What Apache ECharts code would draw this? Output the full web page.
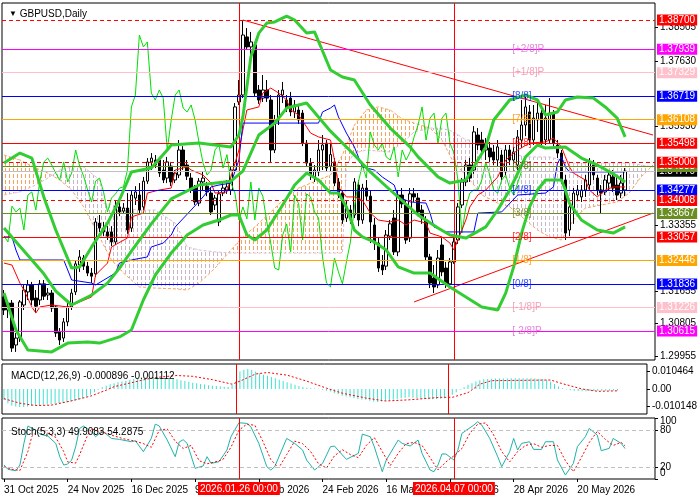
<!DOCTYPE html>
<html>
<head>
<meta charset="utf-8">
<script src="https://cdn.jsdelivr.net/npm/echarts@6/dist/echarts.min.js"></script>
<style>
  html, body { margin: 0; padding: 0; background: #fff; }
  #chart { width: 700px; height: 500px; }
</style>
</head>
<body>
<div id="chart"></div>
<script>
// GBPUSD daily, MT4-style: candles + Bollinger + Ichimoku + Murrey levels, MACD and Stochastic below

// daily candles [open, close, low, high]
const candles = [
  [1.3150,1.3116,1.3103,1.3168],[1.3116,1.3134,1.3095,1.3142],[1.3134,1.3017,1.3007,1.3142],[1.3025,1.3043,1.3007,1.3056],
  [1.3043,1.3137,1.3033,1.3142],[1.3129,1.3168,1.3116,1.3181],[1.3163,1.3181,1.3142,1.3194],[1.3181,1.3142,1.3129,1.3189],
  [1.3147,1.3126,1.3111,1.3168],[1.3142,1.3184,1.3129,1.3194],[1.3184,1.3152,1.3142,1.3194],[1.3155,1.3160,1.3142,1.3173],
  [1.3160,1.3121,1.3111,1.3168],[1.3124,1.3056,1.3046,1.3129],[1.3059,1.3038,1.3025,1.3069],[1.3043,1.3085,1.3033,1.3095],
  [1.3085,1.3124,1.3074,1.3134],[1.3124,1.3160,1.3116,1.3171],[1.3163,1.3236,1.3155,1.3246],[1.3233,1.3254,1.3215,1.3272],
  [1.3251,1.3230,1.3220,1.3259],[1.3230,1.3212,1.3204,1.3241],[1.3212,1.3204,1.3186,1.3225],[1.3210,1.3345,1.3202,1.3355],
  [1.3342,1.3329,1.3319,1.3363],[1.3329,1.3319,1.3308,1.3345],[1.3319,1.3308,1.3298,1.3334],[1.3319,1.3293,1.3282,1.3334],
  [1.3293,1.3386,1.3285,1.3402],[1.3384,1.3371,1.3360,1.3402],[1.3373,1.3381,1.3366,1.3394],[1.3381,1.3324,1.3314,1.3420],
  [1.3329,1.3415,1.3319,1.3428],[1.3407,1.3423,1.3389,1.3438],[1.3415,1.3376,1.3366,1.3446],[1.3384,1.3451,1.3376,1.3462],
  [1.3451,1.3501,1.3444,1.3511],[1.3501,1.3511,1.3480,1.3524],[1.3506,1.3493,1.3485,1.3519],[1.3506,1.3472,1.3462,1.3514],
  [1.3480,1.3454,1.3446,1.3506],[1.3459,1.3501,1.3446,1.3514],[1.3490,1.3449,1.3438,1.3501],[1.3454,1.3472,1.3446,1.3480],
  [1.3467,1.3532,1.3459,1.3558],[1.3532,1.3490,1.3480,1.3542],[1.3493,1.3464,1.3454,1.3506],[1.3459,1.3428,1.3420,1.3472],
  [1.3433,1.3397,1.3389,1.3441],[1.3394,1.3451,1.3386,1.3459],[1.3449,1.3459,1.3428,1.3475],[1.3438,1.3423,1.3412,1.3449],
  [1.3420,1.3371,1.3363,1.3433],[1.3389,1.3407,1.3376,1.3415],[1.3345,1.3418,1.3334,1.3428],[1.3420,1.3433,1.3412,1.3449],
  [1.3428,1.3436,1.3418,1.3454],[1.3428,1.3480,1.3415,1.3488],[1.3480,1.3644,1.3475,1.3654],[1.3657,1.3675,1.3649,1.3714],
  [1.3675,1.3831,1.3667,1.3870],[1.3826,1.3800,1.3792,1.3849],[1.3800,1.3813,1.3771,1.3839],[1.3805,1.3680,1.3672,1.3813],
  [1.3688,1.3662,1.3652,1.3701],[1.3667,1.3688,1.3657,1.3727],[1.3688,1.3667,1.3657,1.3714],[1.3662,1.3532,1.3501,1.3675],
  [1.3532,1.3610,1.3524,1.3623],[1.3610,1.3675,1.3597,1.3688],[1.3675,1.3688,1.3654,1.3709],[1.3662,1.3641,1.3631,1.3675],
  [1.3667,1.3631,1.3620,1.3683],[1.3631,1.3649,1.3615,1.3662],[1.3636,1.3610,1.3600,1.3649],[1.3628,1.3550,1.3542,1.3636],
  [1.3550,1.3498,1.3488,1.3558],[1.3498,1.3467,1.3454,1.3511],[1.3462,1.3480,1.3449,1.3493],[1.3475,1.3532,1.3464,1.3558],
  [1.3532,1.3545,1.3480,1.3571],[1.3550,1.3485,1.3475,1.3558],[1.3490,1.3520,1.3475,1.3550],[1.3501,1.3446,1.3438,1.3511],
  [1.3449,1.3420,1.3407,1.3459],[1.3420,1.3350,1.3340,1.3428],[1.3355,1.3384,1.3345,1.3402],[1.3376,1.3353,1.3340,1.3389],
  [1.3363,1.3449,1.3355,1.3459],[1.3441,1.3350,1.3334,1.3454],[1.3350,1.3433,1.3340,1.3444],[1.3433,1.3412,1.3402,1.3454],
  [1.3412,1.3345,1.3290,1.3428],[1.3337,1.3290,1.3272,1.3355],[1.3290,1.3225,1.3215,1.3303],[1.3233,1.3220,1.3207,1.3259],
  [1.3230,1.3311,1.3220,1.3324],[1.3308,1.3340,1.3298,1.3350],[1.3355,1.3267,1.3259,1.3376],[1.3267,1.3415,1.3256,1.3428],
  [1.3415,1.3392,1.3381,1.3433],[1.3389,1.3298,1.3288,1.3402],[1.3303,1.3418,1.3293,1.3433],[1.3418,1.3410,1.3397,1.3433],
  [1.3407,1.3371,1.3360,1.3420],[1.3376,1.3355,1.3340,1.3389],[1.3350,1.3254,1.3246,1.3360],[1.3254,1.3186,1.3173,1.3262],
  [1.3199,1.3176,1.3160,1.3233],[1.3181,1.3251,1.3173,1.3272],[1.3285,1.3215,1.3204,1.3303],[1.3225,1.3184,1.3173,1.3241],
  [1.3184,1.3241,1.3173,1.3251],[1.3241,1.3293,1.3236,1.3303],[1.3298,1.3384,1.3288,1.3394],[1.3389,1.3449,1.3381,1.3459],
  [1.3449,1.3493,1.3438,1.3506],[1.3493,1.3459,1.3449,1.3511],[1.3480,1.3579,1.3470,1.3594],[1.3571,1.3545,1.3532,1.3589],
  [1.3558,1.3532,1.3519,1.3579],[1.3532,1.3550,1.3506,1.3563],[1.3537,1.3514,1.3501,1.3553],[1.3527,1.3506,1.3493,1.3545],
  [1.3506,1.3540,1.3490,1.3558],[1.3519,1.3462,1.3454,1.3532],[1.3475,1.3532,1.3467,1.3545],[1.3532,1.3506,1.3493,1.3545],
  [1.3506,1.3527,1.3496,1.3540],[1.3493,1.3566,1.3480,1.3584],[1.3558,1.3597,1.3537,1.3662],[1.3597,1.3644,1.3568,1.3670],
  [1.3631,1.3558,1.3545,1.3649],[1.3558,1.3615,1.3545,1.3649],[1.3610,1.3628,1.3579,1.3662],[1.3628,1.3550,1.3540,1.3641],
  [1.3558,1.3615,1.3545,1.3649],[1.3558,1.3628,1.3550,1.3667],[1.3628,1.3550,1.3542,1.3636],[1.3545,1.3524,1.3511,1.3558],
  [1.3524,1.3454,1.3444,1.3532],[1.3454,1.3316,1.3298,1.3467],[1.3324,1.3384,1.3308,1.3402],[1.3376,1.3420,1.3340,1.3433],
  [1.3415,1.3428,1.3402,1.3441],[1.3410,1.3428,1.3397,1.3441],[1.3428,1.3454,1.3410,1.3467],[1.3441,1.3501,1.3428,1.3511],
  [1.3493,1.3467,1.3454,1.3506],[1.3459,1.3428,1.3415,1.3467],[1.3428,1.3420,1.3368,1.3441],[1.3423,1.3454,1.3415,1.3467],
  [1.3446,1.3467,1.3428,1.3480],[1.3462,1.3433,1.3423,1.3480],[1.3441,1.3415,1.3402,1.3464],[1.3420,1.3446,1.3407,1.3467],
  [1.3428,1.3477,1.3412,1.3485]
];
const barSlots = 164; // candles plus the empty shift area on the right

// date labels, one every 16 bars
const dateTicks = ['31 Oct 2025','24 Nov 2025','16 Dec 2025','9 Jan 2026','2 Feb 2026','24 Feb 2026',
                   '16 Mar 2026','6 Apr 2026','28 Apr 2026','20 May 2026'];
const priceTicks = [1.29955, 1.30805, 1.31655, 1.33355, 1.35930, 1.37630, 1.38505];

// Bollinger bands [bar, price]
const bbUpper = [[0,1.3498],[4,1.3524],[7,1.3511],[10,1.3410],[13,1.3324],[17,1.3225],[19,1.3228],[22,1.3280],
  [26,1.3342],[29,1.3402],[32,1.3475],[37,1.3485],[41,1.3532],[42,1.3545],[49,1.3550],[57,1.3540],[59,1.3571],
  [60,1.3618],[62,1.3774],[64,1.3836],[66,1.3862],[68,1.3865],[71,1.3880],[73,1.3870],[76,1.3836],[78,1.3839],
  [82,1.3740],[85,1.3722],[88,1.3714],[92,1.3649],[97,1.3589],[102,1.3540],[104,1.3514],[109,1.3462],[112,1.3446],
  [116,1.3454],[121,1.3540],[123,1.3610],[127,1.3662],[131,1.3675],[134,1.3662],[136,1.3623],[139,1.3631],
  [141,1.3662],[144,1.3670],[148,1.3667],[151,1.3644],[154,1.3615],[156,1.3566]];
const bbMiddle = [[0,1.3329],[4,1.3282],[10,1.3210],[13,1.3165],[17,1.3129],[22,1.3155],[26,1.3186],[29,1.3225],
  [32,1.3269],[37,1.3340],[42,1.3405],[49,1.3441],[57,1.3451],[60,1.3477],[64,1.3571],[68,1.3602],[71,1.3641],
  [76,1.3654],[82,1.3581],[88,1.3519],[92,1.3475],[97,1.3428],[104,1.3363],[109,1.3329],[112,1.3311],[116,1.3303],
  [121,1.3332],[124,1.3376],[127,1.3428],[131,1.3514],[134,1.3545],[136,1.3537],[141,1.3540],[145,1.3511],
  [149,1.3493],[153,1.3470],[156,1.3449]];
const bbLower = [[0,1.3160],[3,1.3064],[6,1.3012],[12,1.3007],[16,1.3030],[21,1.3033],[24,1.3030],[29,1.3046],
  [32,1.3064],[35,1.3142],[38,1.3207],[42,1.3264],[46,1.3311],[50,1.3337],[54,1.3350],[57,1.3363],[59,1.3363],
  [61,1.3311],[63,1.3298],[66,1.3324],[70,1.3389],[73,1.3441],[76,1.3472],[79,1.3454],[82,1.3420],[84,1.3420],
  [86,1.3384],[88,1.3324],[90,1.3306],[93,1.3293],[96,1.3272],[99,1.3228],[103,1.3212],[107,1.3212],[112,1.3176],
  [116,1.3150],[120,1.3124],[124,1.3116],[126,1.3160],[128,1.3228],[130,1.3316],[132,1.3384],[134,1.3428],
  [136,1.3454],[140,1.3454],[141,1.3428],[142,1.3394],[145,1.3350],[149,1.3324],[153,1.3316],[156,1.3332]];

// Ichimoku
const tenkan = [[0,1.3238],[2,1.3233],[4,1.3186],[5,1.3168],[7,1.3124],[8,1.3108],[9,1.3124],[12,1.3129],[16,1.3124],
  [22,1.3150],[23,1.3207],[26,1.3238],[27,1.3280],[31,1.3303],[32,1.3358],[35,1.3368],[36,1.3420],[39,1.3428],
  [42,1.3433],[43,1.3480],[46,1.3488],[47,1.3480],[50,1.3467],[52,1.3446],[53,1.3420],[56,1.3423],[57,1.3462],
  [59,1.3532],[61,1.3636],[64,1.3644],[65,1.3680],[67,1.3693],[69,1.3680],[71,1.3662],[72,1.3636],[74,1.3623],
  [76,1.3592],[77,1.3576],[79,1.3566],[82,1.3558],[83,1.3506],[84,1.3436],[86,1.3410],[88,1.3410],[90,1.3402],
  [92,1.3368],[94,1.3350],[97,1.3345],[99,1.3350],[101,1.3337],[103,1.3350],[106,1.3342],[107,1.3316],[110,1.3306],
  [112,1.3290],[113,1.3272],[114,1.3298],[116,1.3350],[117,1.3384],[119,1.3415],[121,1.3428],[124,1.3462],
  [126,1.3506],[129,1.3532],[132,1.3550],[136,1.3553],[138,1.3563],[140,1.3540],[141,1.3514],[142,1.3488],
  [143,1.3472],[146,1.3454],[147,1.3428],[149,1.3410],[151,1.3428],[153,1.3436],[156,1.3436]];
const kijun = [[0,1.3306],[2,1.3306],[3,1.3272],[4,1.3246],[15,1.3246],[17,1.3194],[22,1.3186],[23,1.3181],
  [28,1.3212],[29,1.3238],[32,1.3246],[36,1.3254],[37,1.3280],[40,1.3290],[42,1.3311],[43,1.3332],[47,1.3376],
  [50,1.3410],[52,1.3436],[54,1.3441],[57,1.3446],[59,1.3506],[60,1.3602],[79,1.3602],[80,1.3631],[82,1.3641],
  [83,1.3649],[84,1.3618],[86,1.3576],[88,1.3540],[90,1.3488],[93,1.3480],[95,1.3462],[98,1.3441],[99,1.3410],
  [102,1.3397],[106,1.3394],[107,1.3368],[108,1.3332],[111,1.3319],[118,1.3319],[119,1.3368],[125,1.3371],
  [129,1.3415],[136,1.3420],[138,1.3436],[139,1.3498],[140,1.3514],[141,1.3488],[142,1.3475],[156,1.3475]];
const cloudBars = [0,4,8,11,14,17,20,24,25,27,30,34,38,43,46,49,53,57,60,63,67,71,74,79,82,85,86,88,91,94,97,100,
  103,107,110,113,116,120,124,127,131,134,137,140,143,146,150,154,157,160,163];
const senkouA = [1.3519,1.3506,1.3485,1.3472,1.3454,1.3428,1.3384,1.3306,1.3285,1.3246,1.3212,1.3176,1.3173,1.3171,
  1.3168,1.3186,1.3225,1.3272,1.3306,1.3332,1.3371,1.3410,1.3433,1.3454,1.3467,1.3519,1.3545,1.3597,1.3636,1.3644,
  1.3636,1.3613,1.3602,1.3589,1.3558,1.3498,1.3467,1.3415,1.3394,1.3384,1.3350,1.3324,1.3306,1.3298,1.3350,1.3381,
  1.3389,1.3397,1.3420,1.3462,1.3493];
const senkouB = [1.3415,1.3423,1.3441,1.3459,1.3480,1.3488,1.3488,1.3454,1.3394,1.3389,1.3381,1.3376,1.3376,1.3342,
  1.3280,1.3272,1.3267,1.3264,1.3264,1.3264,1.3264,1.3264,1.3264,1.3264,1.3264,1.3264,1.3493,1.3524,1.3532,1.3529,
  1.3527,1.3550,1.3579,1.3589,1.3589,1.3579,1.3558,1.3558,1.3540,1.3524,1.3514,1.3514,1.3514,1.3506,1.3498,1.3498,
  1.3498,1.3498,1.3498,1.3493,1.3488];

// MACD(12,26,9): histogram per bar, signal [bar, value]
const macdHist = [
  -0.0065,-0.0085,-0.0100,-0.0105,-0.0108,-0.0108,-0.0105,-0.0102,-0.0100,-0.0098,
  -0.0095,-0.0093,-0.0090,-0.0088,-0.0085,-0.0082,-0.0080,-0.0075,-0.0070,-0.0063,
  -0.0055,-0.0045,-0.0035,-0.0020,-0.0005,0.0010,0.0020,0.0028,0.0035,0.0040,
  0.0045,0.0050,0.0055,0.0060,0.0062,0.0065,0.0068,0.0070,0.0072,0.0070,
  0.0068,0.0065,0.0063,0.0060,0.0058,0.0053,0.0048,0.0043,0.0038,0.0035,
  0.0030,0.0027,0.0023,0.0020,0.0018,0.0015,0.0013,0.0012,0.0025,0.0050,
  0.0105,0.0115,0.0120,0.0115,0.0105,0.0095,0.0085,0.0080,0.0072,0.0065,
  0.0055,0.0048,0.0040,0.0033,0.0025,0.0018,0.0012,0.0008,0.0005,0.0003,
  0.0001,-0.0005,-0.0010,-0.0015,-0.0025,-0.0032,-0.0040,-0.0045,-0.0050,-0.0055,
  -0.0060,-0.0063,-0.0065,-0.0070,-0.0075,-0.0078,-0.0075,-0.0072,-0.0068,-0.0065,
  -0.0060,-0.0055,-0.0052,-0.0050,-0.0053,-0.0056,-0.0058,-0.0060,-0.0062,-0.0062,
  -0.0060,-0.0058,-0.0055,-0.0050,-0.0035,-0.0020,-0.0005,0.0010,0.0025,0.0035,
  0.0045,0.0052,0.0058,0.0060,0.0062,0.0063,0.0063,0.0063,0.0063,0.0064,
  0.0065,0.0065,0.0065,0.0065,0.0064,0.0063,0.0062,0.0060,0.0055,0.0045,
  0.0030,0.0015,0.0005,-0.0003,-0.0008,-0.0010,-0.0012,-0.0013,-0.0013,-0.0012,
  -0.0012,-0.0011,-0.0011,-0.0010,-0.0010,-0.0009,-0.0009];
const macdSignal = [[0,-0.0058],[4,-0.0085],[8,-0.0099],[12,-0.0097],[17,-0.0072],[22,-0.0043],[26,-0.0007],
  [28,0.0014],[33,0.0041],[38,0.0068],[44,0.0081],[48,0.0076],[53,0.0056],[58,0.0029],[60,0.0047],[64,0.0090],
  [67,0.0099],[72,0.0083],[77,0.0047],[82,0.0005],[86,-0.0025],[92,-0.0054],[97,-0.0072],[103,-0.0065],
  [111,-0.0050],[114,-0.0050],[118,-0.0022],[121,0.0029],[124,0.0050],[139,0.0054],[142,0.0032],[147,0.0000],
  [151,-0.0014],[156,-0.0011]];

// Stochastic(5,3,3) [bar, value]
const stochK = [[0,22.9],[1,15.8],[3,13.6],[4,22.9],[5,58.4],[6,86.8],[8,80.2],[9,73.6],[11,70.4],[13,58.4],
  [14,36.6],[15,22.9],[16,24.5],[17,31.1],[18,52.9],[19,82.9],[20,86.8],[22,77.5],[23,69.3],[24,74.7],[25,77.5],
  [27,66.5],[29,64.9],[32,61.1],[33,62.7],[35,44.7],[37,66.5],[38,90],[39,86.8],[41,63.8],[43,36.6],[44,60.6],
  [45,64.4],[46,58.4],[48,17.5],[50,21.3],[51,36.6],[52,25.6],[54,28.4],[56,47.5],[57,69.3],[59,92.2],[61,91.1],
  [62,85.6],[64,58.4],[66,20.2],[67,14.7],[68,20.2],[71,66.5],[73,58.4],[75,47.5],[76,31.1],[78,14.7],[79,20.2],
  [80,25.6],[82,52.9],[83,54],[85,39.3],[86,32.2],[89,42],[90,73.6],[92,69.3],[93,52.9],[95,12],[96,31.1],
  [99,63.8],[100,58.4],[102,54],[104,63.8],[105,42],[107,14.7],[108,12],[109,22.9],[110,41],[111,41],[113,31.1],
  [114,47.5],[115,74.7],[118,88.4],[119,93.9],[120,88.4],[122,66.5],[124,36.6],[125,20.2],[127,44.7],[128,66.5],
  [129,47.5],[130,58.4],[132,61.1],[133,48.5],[135,48.5],[136,61.1],[138,61.1],[139,31.1],[141,6.5],[143,25.6],
  [144,52.9],[146,69.3],[147,83],[149,72],[150,46.4],[152,50.2],[153,66.5],[155,58.4],[156,49.9]];
const stochD = [[0,20],[2,16],[4,14],[6,45],[7,70],[9,82],[11,75],[13,68],[15,45],[16,28],[18,26],[19,40],[21,72],
  [22,82],[24,78],[26,74],[28,70],[30,66],[33,62],[35,58],[37,52],[39,80],[41,82],[43,62],[45,50],[47,55],[49,30],
  [51,25],[53,28],[55,32],[57,52],[59,80],[61,90],[63,88],[65,62],[67,32],[69,18],[71,40],[73,62],[75,58],[77,45],
  [79,25],[81,18],[83,38],[85,48],[87,40],[89,35],[91,55],[93,68],[95,45],[97,22],[99,42],[101,58],[103,60],
  [105,55],[107,35],[109,15],[111,28],[113,38],[115,50],[117,75],[119,90],[121,92],[123,72],[125,45],[127,28],
  [129,45],[131,55],[133,58],[135,52],[137,55],[139,55],[141,30],[143,12],[145,35],[147,60],[149,78],[151,65],
  [153,55],[155,60],[156,54.3]];
const stochLevels = [0, 20, 80, 100];

// horizontal levels on the price panel
const levelPrices = [1.38700, 1.37939, 1.37329, 1.36719, 1.36108, 1.35498, 1.34770, 1.34888, 1.35000,
                     1.34277, 1.34008, 1.33667, 1.33057, 1.32446, 1.31836, 1.31226, 1.30615];
const murreyNames  = ['[+2/8]P','[+1/8]P','[8/8]','[7/8]','[6/8]','[5/8]','[4/8]','[3/8]','[2/8]','[1/8]','[0/8]','[-1/8]P','[-2/8]P'];
const murreyPrices = [1.37939,1.37329,1.36719,1.36108,1.35498,1.34888,1.34277,1.33667,1.33057,1.32446,1.31836,1.31226,1.30615];
const trendLines = [[[60, 1.3870], [163, 1.3571]], [[103, 1.3137], [163, 1.3368]]];
const markedBars = [59, 113];
const markedText = ['2026.01.26 00:00', '2026.04.07 00:00'];

// styles
const FONT = 'Liberation Sans';
const RED = '#ff0000', MAG = '#ff00ff', PINK = '#ffc0cb', BLUE = '#0000ff', ORANGE = '#ffa500', OLIVE = '#6b8e23';
const CLEAR = 'rgba(0,0,0,0)';
const levelStyle = [
  {c: RED, dash: true}, {c: MAG}, {c: PINK}, {c: BLUE}, {c: ORANGE}, {c: RED},
  {c: '#c0c0c0', box: '#000000'}, {c: OLIVE}, {c: RED, dash: true},
  {c: BLUE}, {c: RED, dash: true}, {c: OLIVE}, {c: RED}, {c: ORANGE}, {c: BLUE}, {c: PINK}, {c: MAG}
];
const murreyColors = ['#dd66cc', '#f08aa8', '#0022ff', '#ff8c00', '#ff0000', '#4f6f0f', '#0022ff', '#6f7f1f',
                      '#ff0000', '#ff8c00', '#0022ff', '#f08aa8', '#dd66cc'];

function hatch(color) {
  const c = document.createElement('canvas');
  c.width = 4; c.height = 6;
  const g = c.getContext('2d');
  g.fillStyle = color;
  g.fillRect(1, 0, 1, 4);
  return c;
}
const sandyHatch = hatch('#f4a460');
const thistleHatch = hatch('#c8b4c8');

const cats = Array.from({length: barSlots}, (_, i) => String(i));
const chikou = candles.slice(26).map((c, k) => [k, c[1]]);

const levelLines = levelPrices.map((p, k) => ({
  yAxis: p,
  lineStyle: {color: levelStyle[k].c, width: 1, type: levelStyle[k].dash ? [4, 3] : 'solid'},
  label: {
    show: true, position: 'end', distance: 2, formatter: p.toFixed(5),
    color: '#fff', backgroundColor: levelStyle[k].box || levelStyle[k].c,
    padding: [1, 2, 0, 2], fontSize: 10, fontFamily: FONT
  }
}));
const vLines = markedBars.map(b => ({xAxis: b, label: {show: false}}));
const tLines = trendLines.map(t => [{coord: t[0]}, {coord: t[1]}]);

const thin = (color, w, type) => ({color: color, width: w || 1, type: type || 'solid'});
function lineSeries(name, data, style, axis, z) {
  return {
    name: name, type: 'line', data: data, xAxisIndex: axis, yAxisIndex: axis,
    symbol: 'none', lineStyle: style, z: z || 4, silent: true, clip: true
  };
}

// stochastic levels: dashed lines at 20/80, value labels on the right for all four
const stochMarks = stochLevels.map(v => ({
  yAxis: v,
  lineStyle: (v === 20 || v === 80) ? {color: '#c0c0c0', type: [4, 3], width: 1} : {color: CLEAR, width: 1},
  label: {show: true, position: 'end', distance: 5, formatter: String(v), color: '#000',
          fontSize: 10, fontFamily: FONT, offset: [0, v === 100 ? 3 : v === 0 ? -6 : 0]}
}));

let chart = echarts.init(document.getElementById('chart'));

const option = {
  animation: false,
  backgroundColor: '#fff',
  textStyle: {fontFamily: FONT},
  title: [
    {text: '{t|▼} GBPUSD,Daily', left: 4, top: 4,
     textStyle: {fontSize: 10, fontWeight: 'normal', color: '#000', fontFamily: FONT,
                 rich: {t: {fontSize: 8, color: '#000'}}}},
    {text: 'MACD(12,26,9) -0.000896 -0.001112', left: 6, top: 366,
     textStyle: {fontSize: 10, fontWeight: 'normal', color: '#000', fontFamily: FONT}},
    {text: 'Stoch(5,3,3) 49.9083 54.2875', left: 6, top: 422,
     textStyle: {fontSize: 10, fontWeight: 'normal', color: '#000', fontFamily: FONT}}
  ],
  grid: [
    {left: 2, top: 3, width: 653, height: 357, show: true, borderColor: '#000', borderWidth: 1, backgroundColor: '#fff'},
    {left: 2, top: 364, width: 653, height: 50, show: true, borderColor: '#000', borderWidth: 1},
    {left: 2, top: 418, width: 653, height: 61, show: true, borderColor: '#000', borderWidth: 1}
  ],
  xAxis: [0, 1, 2].map(g => ({
    type: 'category', gridIndex: g, data: cats, boundaryGap: true,
    axisLine: {show: false}, splitLine: {show: false},
    axisTick: g === 2 ? {
      show: true, alignWithLabel: true, length: 3, lineStyle: {color: '#000'},
      interval: i => i % 16 === 0 && i / 16 < dateTicks.length
    } : {show: false},
    axisLabel: g === 2 ? {
      show: true, align: 'left', margin: 6, color: '#000', fontSize: 10, fontFamily: FONT,
      interval: i => i % 16 === 0 && i / 16 < dateTicks.length,
      formatter: (v, i) => dateTicks[i / 16] || ''
    } : {show: false}
  })),
  yAxis: [
    {type: 'value', gridIndex: 0, position: 'right', min: 1.2986, max: 1.39142, scale: true,
     splitLine: {show: false}, axisLine: {show: false},
     axisTick: {show: true, length: 3, lineStyle: {color: '#000'}, customValues: priceTicks},
     axisLabel: {color: '#000', fontSize: 10, fontFamily: FONT, margin: 5, customValues: priceTicks,
                 formatter: v => v.toFixed(5)}},
    {type: 'value', gridIndex: 1, position: 'right', min: -0.015, max: 0.015,
     splitLine: {show: false}, axisLine: {show: false},
     axisTick: {show: true, length: 3, lineStyle: {color: '#000'}, customValues: [-0.010148, 0, 0.010464]},
     axisLabel: {color: '#000', fontSize: 10, fontFamily: FONT, margin: 5,
                 customValues: [-0.010148, 0, 0.010464],
                 formatter: v => v === 0 ? '0.00' : v.toFixed(6)}},
    {type: 'value', gridIndex: 2, position: 'right', min: 0, max: 100,
     splitLine: {show: false}, axisLine: {show: false},
     axisTick: {show: true, length: 3, lineStyle: {color: '#000'}, customValues: stochLevels},
     axisLabel: {show: false}}
  ],
  series: [
    // Ichimoku cloud, hatched
    {
      type: 'custom', xAxisIndex: 0, yAxisIndex: 0, z: 1, silent: true, clip: true,
      data: cloudBars.map((b, k) => [b, senkouA[k], senkouB[k]]),
      encode: {x: 0, y: [1, 2]},
      renderItem: function (params, api) {
        const k = params.dataIndex;
        if (k >= cloudBars.length - 1) return null;
        const a0 = api.coord([cloudBars[k], senkouA[k]]);
        const a1 = api.coord([cloudBars[k + 1], senkouA[k + 1]]);
        const b1 = api.coord([cloudBars[k + 1], senkouB[k + 1]]);
        const b0 = api.coord([cloudBars[k], senkouB[k]]);
        const up = senkouA[k] + senkouA[k + 1] >= senkouB[k] + senkouB[k + 1];
        return {
          type: 'polygon',
          shape: {points: [a0, a1, b1, b0]},
          style: {fill: {image: up ? sandyHatch : thistleHatch, repeat: 'repeat'}, stroke: null}
        };
      }
    },
    lineSeries('Senkou A', cloudBars.map((b, k) => [b, senkouA[k]]), thin('#f4a460', 1, [3, 2]), 0, 2),
    lineSeries('Senkou B', cloudBars.map((b, k) => [b, senkouB[k]]), thin('#d8bfd8', 1, [3, 2]), 0, 2),
    {
      name: 'GBPUSD', type: 'candlestick', xAxisIndex: 0, yAxisIndex: 0, z: 3,
      data: candles, barWidth: 3, silent: true,
      itemStyle: {color: '#fff', color0: '#000', borderColor: '#000', borderColor0: '#000', borderWidth: 1},
      markLine: {
        silent: true, symbol: ['none', 'none'], animation: false, precision: 5,
        lineStyle: {color: RED, width: 1, type: 'solid'},
        label: {show: false},
        data: [...vLines, ...tLines, ...levelLines]
      }
    },
    lineSeries('Chikou', chikou, thin('#00e000'), 0, 4),
    lineSeries('Tenkan', tenkan, thin(RED), 0, 4),
    lineSeries('Kijun', kijun, thin(BLUE), 0, 4),
    lineSeries('BB upper', bbUpper, thin('#32cd32', 3), 0, 5),
    lineSeries('BB middle', bbMiddle, thin('#32cd32', 3), 0, 5),
    lineSeries('BB lower', bbLower, thin('#32cd32', 3), 0, 5),
    {
      name: 'Murrey', type: 'scatter', xAxisIndex: 0, yAxisIndex: 0, z: 6, silent: true,
      symbol: 'circle', symbolSize: 1, itemStyle: {color: CLEAR},
      data: murreyPrices.map((p, k) => ({
        value: [127, p], name: murreyNames[k],
        label: {color: murreyColors[k]}
      })),
      label: {show: true, position: 'right', distance: 2, offset: [0, 7], fontSize: 10, fontFamily: FONT,
              formatter: p => p.name},
      labelLayout: {hideOverlap: false}
    },
    // MACD
    {
      name: 'MACD', type: 'bar', xAxisIndex: 1, yAxisIndex: 1, data: macdHist, barWidth: 1,
      itemStyle: {color: '#40e0d0'}, silent: true,
      markLine: {
        silent: true, symbol: ['none', 'none'], label: {show: false}, precision: 5,
        lineStyle: {color: RED, width: 1, type: 'solid'},
        data: markedBars.map(b => ({xAxis: b}))
      }
    },
    lineSeries('Signal', macdSignal, thin(RED, 1, [2, 2]), 1, 4),
    // Stochastic
    {
      ...lineSeries('%K', stochK, thin('#20b2aa'), 2, 4),
      markLine: {
        silent: true, symbol: ['none', 'none'], precision: 5,
        data: [
          ...stochMarks,
          ...markedBars.map((b, k) => ({
            xAxis: b, lineStyle: {color: RED, width: 1, type: 'solid'},
            label: {show: true, position: 'start', distance: 3, formatter: markedText[k],
                    color: '#fff', backgroundColor: RED, padding: [2, 2, 1, 2], fontSize: 10, fontFamily: FONT}
          }))
        ]
      }
    },
    lineSeries('%D', stochD, thin(RED, 1, [2, 2]), 2, 4)
  ]
};

chart.setOption(option);
</script>
</body>
</html>
